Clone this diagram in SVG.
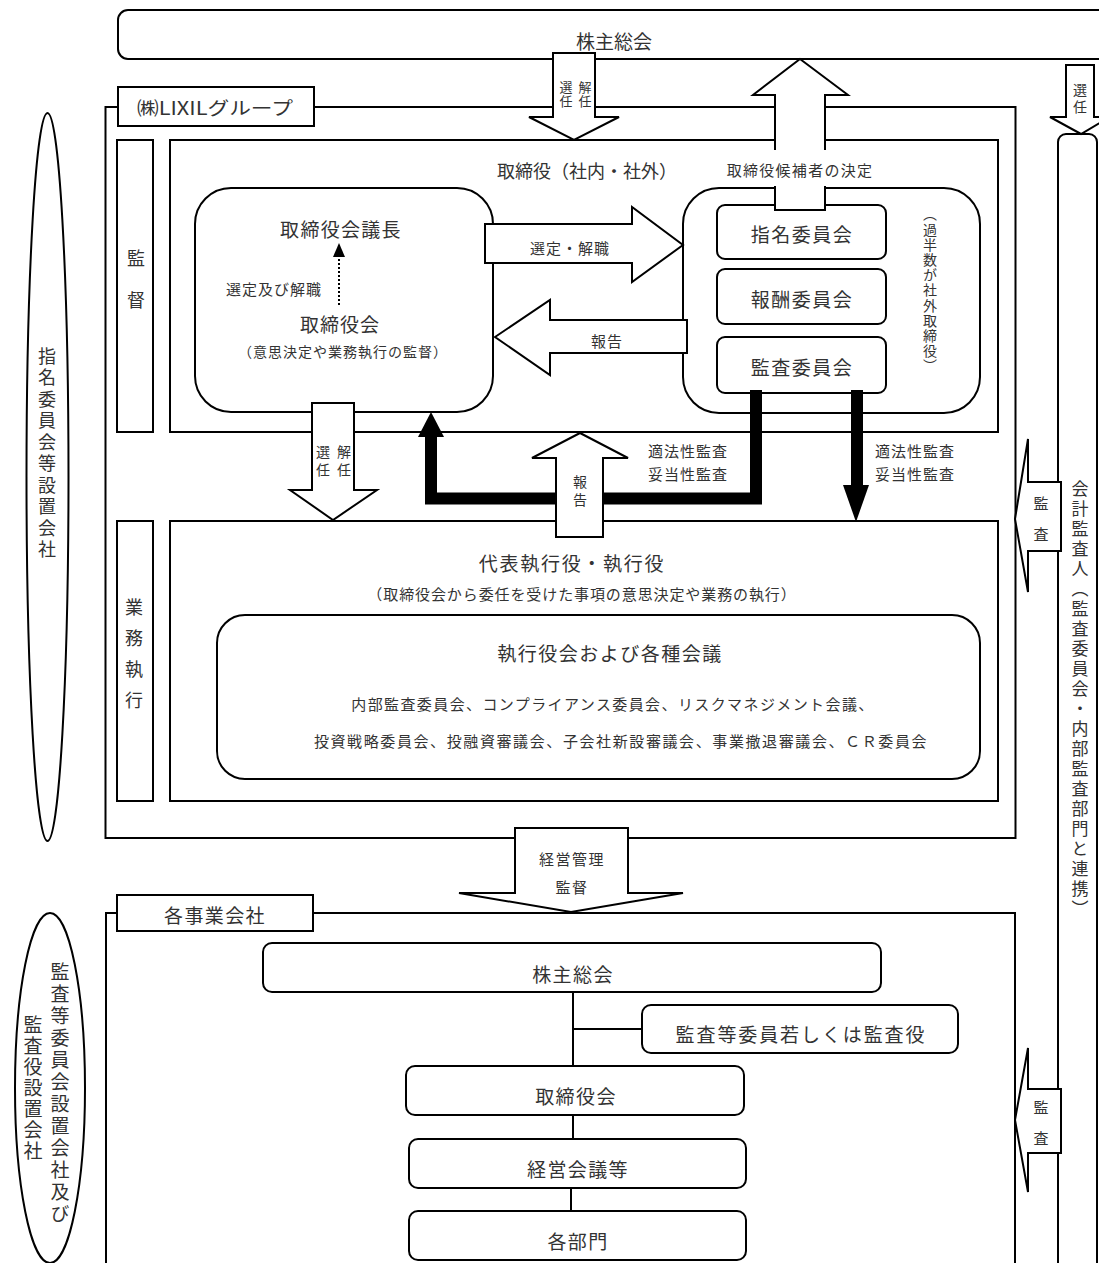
<svg xmlns="http://www.w3.org/2000/svg" width="1099" height="1263" viewBox="0 0 1099 1263">
<style>
.b{fill:#fff;stroke:#000;stroke-width:2}
.n{fill:none;stroke:#000;stroke-width:2}
.ar{fill:#fff;stroke:#000;stroke-width:2;stroke-linejoin:miter}
.th{fill:none;stroke:#000;stroke-width:12;stroke-linejoin:miter}
.t{font-family:"Noto Sans CJK JP","Noto Sans",sans-serif;fill:#333;text-anchor:middle;dominant-baseline:central}
.v{font-family:"Noto Sans CJK JP","Noto Sans",sans-serif;fill:#333;writing-mode:vertical-rl;text-anchor:start}
</style>
<rect width="1099" height="1263" fill="#fff"/>
<g id="agm-top"><rect class="b" x="118" y="10" width="1010" height="49" rx="10"/><text class="t" x="614" y="40" font-size="19">株主総会</text></g>
<g id="auditor-col"><rect class="b" x="1058" y="134" width="39" height="1200" rx="8"/><text class="v" x="1080" y="480" font-size="17" letter-spacing="3">会計監査人（監査委員会・内部監査部門と連携）</text></g>
<g id="oval-nominating"><ellipse class="b" cx="47.5" cy="477" rx="21" ry="364"/><text class="v" x="47" y="347" font-size="18" letter-spacing="3.5">指名委員会等設置会社</text></g>
<g id="oval-subsidiary"><ellipse class="b" cx="50" cy="1088" rx="35" ry="175"/><text class="v" x="60" y="962" font-size="19" letter-spacing="3">監査等委員会設置会社及び</text><text class="v" x="33" y="1015" font-size="19" letter-spacing="2">監査役設置会社</text></g>
<g id="lixil-group"><rect class="n" x="105.5" y="107" width="910" height="731"/><rect class="b" x="118" y="87" width="196" height="39"/><text class="t" x="215" y="107" font-size="18" textLength="156" lengthAdjust="spacingAndGlyphs">㈱LIXILグループ</text></g>
<g id="supervision"><rect class="b" x="117" y="140" width="36" height="292"/><text class="v" x="136" y="249" font-size="18" letter-spacing="24">監督</text></g>
<g id="directors"><rect class="b" x="170" y="140" width="828" height="292"/><text class="t" x="587" y="170" font-size="18">取締役（社内・社外）</text></g>
<g id="board"><rect class="b" x="195" y="188" width="298" height="224" rx="36"/><text class="t" x="341" y="228" font-size="19" letter-spacing="1.3">取締役会議長</text><text class="t" x="274" y="288" font-size="15" letter-spacing="1">選定及び解職</text><text class="t" x="340" y="323" font-size="19" letter-spacing="1">取締役会</text><text class="t" x="343" y="351" font-size="14" letter-spacing="1">（意思決定や業務執行の監督）</text></g>
<g id="committees"><rect class="b" x="683" y="188" width="297" height="225" rx="36"/><text class="v" x="930" y="207" font-size="14" letter-spacing="1.2">（過半数が社外取締役）</text></g>
<g id="nominating"><rect class="b" x="717" y="205" width="169" height="54" rx="8"/><text class="t" x="802" y="233" font-size="19" letter-spacing="1.5">指名委員会</text></g>
<g id="compensation"><rect class="b" x="717" y="269" width="169" height="55" rx="8"/><text class="t" x="802" y="298" font-size="19" letter-spacing="1.5">報酬委員会</text></g>
<g id="audit-committee"><rect class="b" x="717" y="337" width="169" height="56" rx="8"/><text class="t" x="802" y="366" font-size="19" letter-spacing="1.5">監査委員会</text></g>
<g id="execution-side"><rect class="b" x="117" y="521" width="36" height="280"/><text class="v" x="134" y="598" font-size="18" letter-spacing="13">業務執行</text></g>
<g id="officers"><rect class="b" x="170" y="521" width="828" height="280"/><text class="t" x="572" y="562" font-size="19" letter-spacing="1.7">代表執行役・執行役</text><text class="t" x="582" y="593" font-size="15" letter-spacing="0.9">（取締役会から委任を受けた事項の意思決定や業務の執行）</text></g>
<g id="exec-meetings"><rect class="b" x="217" y="615" width="763" height="164" rx="28"/><text class="t" x="610" y="652" font-size="19" letter-spacing="1.5">執行役会および各種会議</text><text class="t" x="613" y="703" font-size="15" letter-spacing="1.4">内部監査委員会、コンプライアンス委員会、リスクマネジメント会議、</text><text class="t" x="621" y="740" font-size="15" letter-spacing="1.6">投資戦略委員会、投融資審議会、子会社新設審議会、事業撤退審議会、ＣＲ委員会</text></g>
<g id="subsidiaries"><rect class="n" x="106" y="913" width="909" height="400"/><rect class="b" x="117" y="895" width="196" height="36"/><text class="t" x="215" y="914" font-size="19" letter-spacing="1.4">各事業会社</text></g>
<g id="sub-agm"><rect class="b" x="263" y="943" width="618" height="49" rx="9"/><text class="t" x="573" y="973" font-size="19" letter-spacing="1.4">株主総会</text></g>
<g id="sub-auditor"><rect class="b" x="642" y="1005" width="316" height="48" rx="9"/><text class="t" x="801" y="1033" font-size="19" letter-spacing="1.9">監査等委員若しくは監査役</text></g>
<g id="sub-board"><rect class="b" x="406" y="1066" width="338" height="49" rx="9"/><text class="t" x="576" y="1095" font-size="19" letter-spacing="1.4">取締役会</text></g>
<g id="sub-mgmt"><rect class="b" x="409" y="1139" width="337" height="49" rx="9"/><text class="t" x="578" y="1168" font-size="19" letter-spacing="1.4">経営会議等</text></g>
<g id="sub-depts"><rect class="b" x="409" y="1211" width="337" height="49" rx="9"/><text class="t" x="578" y="1240" font-size="19" letter-spacing="1.4">各部門</text></g>
<g id="connectors">
<path class="th" d="M756 390V498.5H431V436"/>
<polygon points="418,437 444,437 431,412" fill="#000"/>
<path class="th" d="M857 390V487" stroke-width="10"/>
<polygon points="843,485 869,485 856,522" fill="#000"/>
<text class="t" x="688" y="450" font-size="15" letter-spacing="1">適法性監査</text>
<text class="t" x="688" y="473" font-size="15" letter-spacing="1">妥当性監査</text>
<text class="t" x="915" y="450" font-size="15" letter-spacing="1">適法性監査</text>
<text class="t" x="915" y="473" font-size="15" letter-spacing="1">妥当性監査</text>
<polygon class="ar" points="553,53 595,53 595,117 619,117 574,140 529,117 553,117"/>
<text class="v" x="566" y="80.5" font-size="13" letter-spacing="1">選任</text>
<text class="v" x="585" y="80.5" font-size="13" letter-spacing="1">解任</text>
<polygon class="ar" points="800,59 848,95 825,95 825,210 775,210 775,95 753,95"/>
<rect x="722" y="150" width="156" height="36" fill="#fff"/>
<text class="t" x="800" y="169" font-size="15" letter-spacing="1.3">取締役候補者の決定</text>
<polygon class="ar" points="1066,65 1094,65 1094,117 1110,117 1081,134 1050,117 1066,117"/>
<text class="v" x="1080" y="83" font-size="14" letter-spacing="3">選任</text>
<polygon class="ar" points="485,224 632,224 632,207 683,245 632,282 632,263 485,263"/>
<text class="t" x="570" y="247" font-size="15" letter-spacing="1">選定・解職</text>
<polygon class="ar" points="495,337 550,300 550,320 687,320 687,353 550,353 550,375"/>
<text class="t" x="607" y="340" font-size="15" letter-spacing="1">報告</text>
<path class="n" d="M339 305V257" stroke-dasharray="2 2"/>
<polygon points="333,257 345,257 339,243" fill="#000"/>
<polygon class="ar" points="312,403 354,403 354,490 377,490 333,520 290,490 312,490"/>
<text class="v" x="323" y="445" font-size="14" letter-spacing="4">選任</text>
<text class="v" x="344" y="445" font-size="14" letter-spacing="4">解任</text>
<polygon class="ar" points="556,537 603,537 603,458 628,458 580,433 532,458 556,458"/>
<text class="v" x="580" y="475" font-size="14" letter-spacing="4">報告</text>
<polygon class="ar" points="1015,519 1028,439 1028,482 1061,482 1061,551 1028,551 1028,592"/>
<text class="v" x="1041" y="495.5" font-size="15" letter-spacing="16">監査</text>
<polygon class="ar" points="515,828 628,828 628,893 683,893 571,912 459,893 515,893"/>
<text class="t" x="572" y="858" font-size="15" letter-spacing="1.5">経営管理</text>
<text class="t" x="572" y="886" font-size="15" letter-spacing="1.5">監督</text>
<polygon class="ar" points="1015,1120 1028,1048 1028,1089 1061,1089 1061,1153 1028,1153 1028,1192"/>
<text class="v" x="1041" y="1099.5" font-size="15" letter-spacing="16">監査</text>
<path class="n" d="M573 992V1066M573 1029H642M573 1115V1139M571 1188V1211"/>
</g>
</svg>
